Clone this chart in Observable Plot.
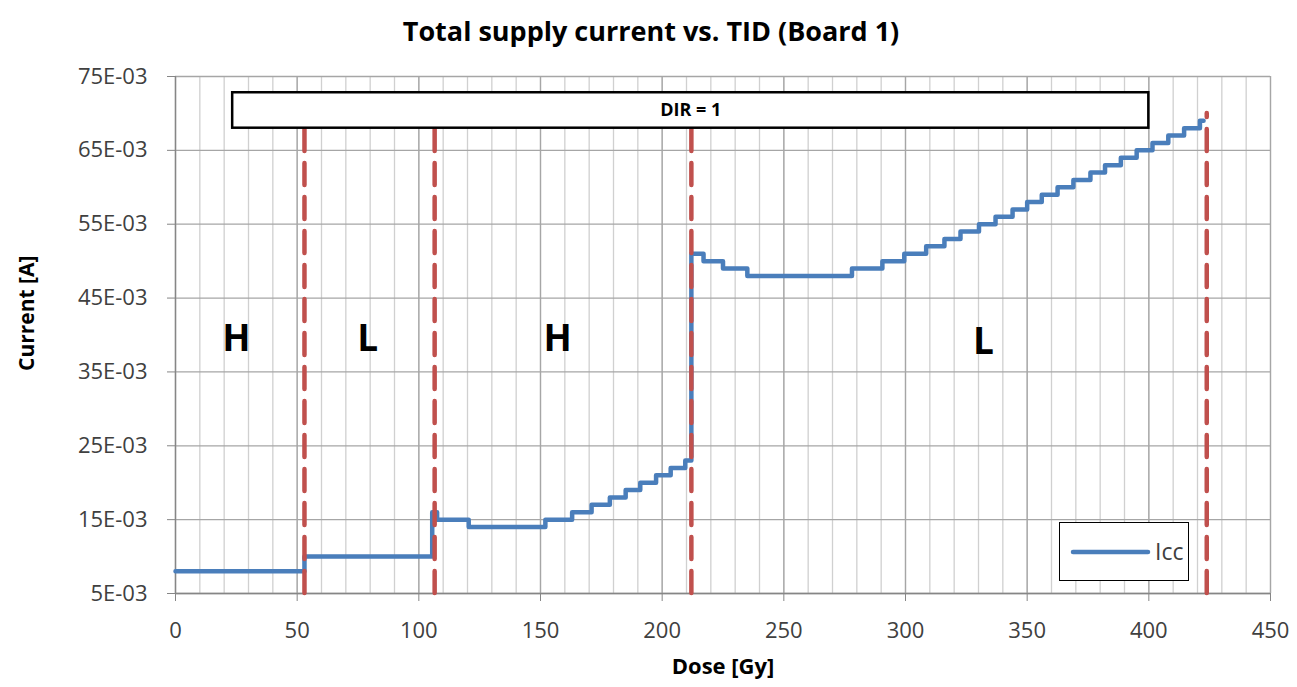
<!DOCTYPE html>
<html>
<head>
<meta charset="utf-8">
<script src="https://cdn.jsdelivr.net/npm/d3@7"></script>
<script src="https://cdn.jsdelivr.net/npm/@observablehq/plot@0.6"></script>
<style>
  body { margin: 0; background: #fff; }
  #wrap { position: relative; width: 1297px; height: 687px; font-family: "Open Sans", sans-serif; }
  #legend { position: absolute; left: 1059px; top: 522px; width: 128px; height: 57px; border: 1.5px solid #000; background: #fff; }
  #legend svg { position: absolute; left: 0; top: 0; }
  #legend span { position: absolute; left: 95px; top: 12px; font-size: 23px; color: #404040; }
</style>
</head>
<body>
<div id="wrap"></div>
<script>
// Icc step series: dose [Gy] where each level starts, current [mA]
const dose = [0, 53, 105.5, 107.5, 120.5, 152, 163, 171, 178.5, 185, 191, 197.5, 203.5, 209.5,
  212, 217, 225, 235, 278, 290.5, 299.5, 308.5, 316, 322.6, 330.2, 337, 344, 350, 356, 362.5,
  369, 376, 382, 388.5, 395, 401.5, 408, 414.5, 421, 422.5];
const currentMA = [8, 10, 16, 15, 14, 15, 16, 17, 18, 19, 20, 21, 22, 23,
  51, 50, 49, 48, 49, 50, 51, 52, 53, 54, 55, 56, 57, 58, 59, 60,
  61, 62, 63, 64, 65, 66, 67, 68, 69, 69];

// phase boundaries (red dashed)
const phaseBounds = [53, 106.5, 212, 423.8];
// phase labels
const phaseLabels = ["H", "L", "H", "L"];
const phaseLabelX = [25, 79, 157, 332];
const phaseLabelY = [39.5, 39.5, 39.5, 39];

// DIR annotation box
const dirLabel = ["DIR = 1"];
const dirBox = { x1: 23.5, x2: 400, y1: 68, y2: 72.8 };

// axes
const xTicks = [0, 50, 100, 150, 200, 250, 300, 350, 400, 450];
const xMinor = d3.range(0, 451, 10);
const yTicks = [5, 15, 25, 35, 45, 55, 65, 75];
const yTickLabels = ["5E-03", "15E-03", "25E-03", "35E-03", "45E-03", "55E-03", "65E-03", "75E-03"];

const series = dose.map((d, i) => ({ dose: d, current: currentMA[i] }));
const labels = phaseLabels.map((t, i) => ({ t, x: phaseLabelX[i], y: phaseLabelY[i] }));

const chart = Plot.plot({
  width: 1297,
  height: 687,
  marginLeft: 175,
  marginRight: 27,
  marginTop: 76,
  marginBottom: 94,
  x: { domain: [0, 450] },
  y: { domain: [5, 75] },
  style: { fontFamily: "Open Sans, sans-serif", background: "#fff", overflow: "visible" },
  marks: [
    Plot.ruleX(xMinor, { stroke: "#d0d0d0", strokeWidth: 1.3 }),
    Plot.ruleX(xTicks, { stroke: "#a6a6a6", strokeWidth: 1.3 }),
    Plot.ruleY(yTicks, { stroke: "#a6a6a6", strokeWidth: 1.3 }),
    Plot.ruleX([0], { stroke: "#868686", strokeWidth: 1.3 }),
    Plot.ruleY([5], { stroke: "#868686", strokeWidth: 1.3 }),
    Plot.axisX({ ticks: xTicks, tickSize: 8, tickPadding: 21, fontSize: 22, color: "#404040", stroke: "#868686", label: null }),
    Plot.axisY({ ticks: yTicks, tickFormat: (d) => yTickLabels[yTicks.indexOf(d)], tickSize: 8, tickPadding: 20, fontSize: 22, color: "#404040", stroke: "#868686", label: null }),
    Plot.line(series, { x: "dose", y: "current", curve: "step-after", stroke: "#4a7ebb", strokeWidth: 4.5, strokeLinejoin: "round" }),
    Plot.ruleX(phaseBounds, { y1: 5, y2: 70, stroke: "#c0504d", strokeWidth: 4.5, strokeDasharray: "22,12", strokeLinecap: "round" }),
    Plot.rect([dirBox], { x1: "x1", x2: "x2", y1: "y1", y2: "y2", fill: "white", stroke: "black", strokeWidth: 2.5 }),
    Plot.text(dirLabel, { x: (dirBox.x1 + dirBox.x2) / 2, y: (dirBox.y1 + dirBox.y2) / 2, text: (d) => d, fontSize: 18, fontWeight: "bold", fill: "black" }),
    Plot.text(labels, { x: "x", y: "y", text: "t", fontSize: 37, fontWeight: "bold", fill: "black" }),
    Plot.text(["Total supply current vs. TID (Board 1)"], { frameAnchor: "top", dx: -72, dy: -55, text: (d) => d, fontSize: 27, fontWeight: "bold", fill: "#000" }),
    Plot.text(["Dose [Gy]"], { frameAnchor: "bottom", dy: 80, text: (d) => d, fontSize: 22, fontWeight: "bold", fill: "#000" }),
    Plot.text(["Current [A]"], { frameAnchor: "left", dx: -148, dy: 36, rotate: -90, text: (d) => d, fontSize: 21, fontWeight: "bold", fill: "#000" })
  ]
});

const wrap = document.getElementById("wrap");
wrap.appendChild(chart);

// legend
const leg = document.createElement("div");
leg.id = "legend";
leg.innerHTML = '<svg width="128" height="57"><line x1="13" y1="29" x2="88" y2="29" stroke="#4a7ebb" stroke-width="4.5" stroke-linecap="round"/></svg><span>Icc</span>';
wrap.appendChild(leg);
</script>
</body>
</html>
